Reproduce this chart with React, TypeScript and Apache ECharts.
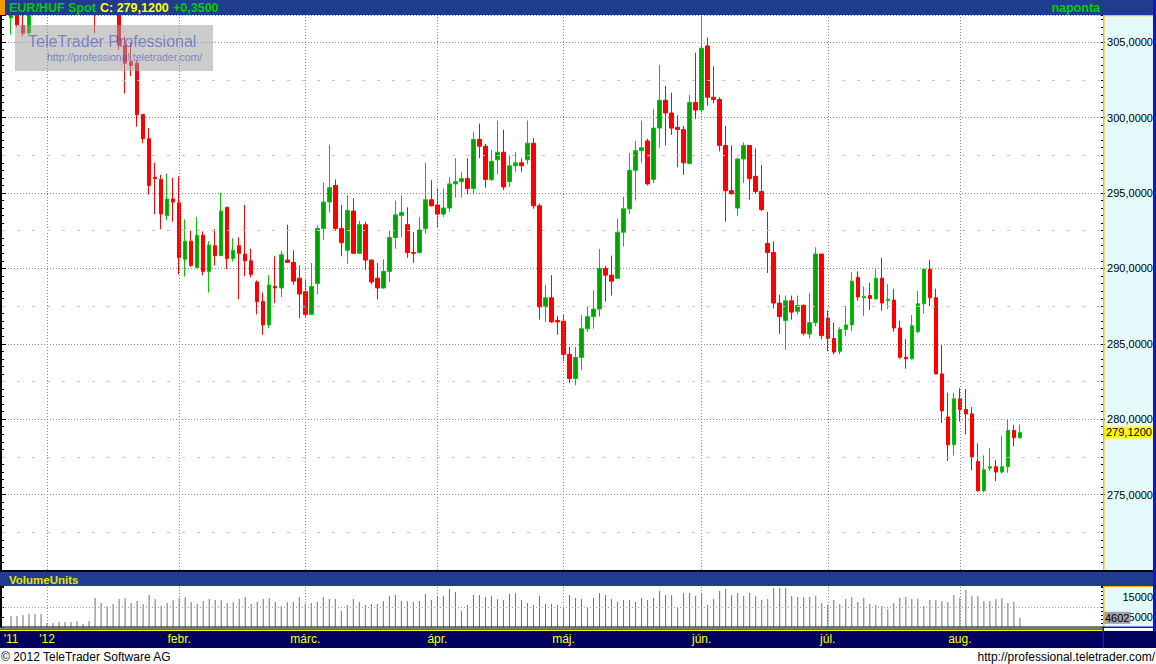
import React, { useEffect, useRef } from "react";
import * as echarts from "echarts";

// ---- data ----
// [open, close, low, high] per trading day, 2011-12-23 .. 2012-08-15
const ohlc: number[][] = [
  [306.6, 307.6, 305.5, 308.2], [307.8, 306.15, 306.0, 308.3], [306.1, 305.6, 305.4, 307.6], [305.6, 309.5, 305.5, 310.2],
  [309.5, 312.8, 308.6, 313.5], [312.8, 314.6, 311.9, 315.4], [314.6, 316.2, 313.8, 317.0], [316.2, 315.3, 314.2, 317.5],
  [315.3, 319.4, 314.8, 320.3], [319.4, 321.8, 318.5, 324.2], [321.8, 320.6, 319.0, 323.0], [320.6, 317.2, 316.5, 321.5],
  [317.2, 313.9, 313.2, 318.0], [313.9, 311.4, 310.5, 314.6], [311.4, 309.8, 305.6, 312.2], [309.8, 312.5, 309.2, 313.6],
  [312.5, 310.6, 309.4, 313.2], [310.6, 308.2, 307.4, 311.5], [308.2, 304.8, 304.5, 308.9], [304.8, 303.6, 301.6, 305.35],
  [303.7, 303.45, 302.75, 305.0], [303.6, 300.2, 299.4, 303.8], [300.2, 298.6, 298.3, 300.2], [298.6, 295.5, 294.9, 299.3],
  [296.05, 295.95, 293.6, 297.0], [295.9, 293.6, 292.6, 296.2], [293.5, 294.6, 293.2, 296.3], [294.6, 294.4, 293.1, 296.0],
  [294.35, 290.7, 289.6, 296.1], [290.6, 291.8, 289.45, 293.25], [291.8, 290.2, 290.1, 292.5], [290.05, 292.2, 290.0, 293.4],
  [292.2, 289.8, 289.55, 292.45], [289.8, 291.55, 288.4, 291.8], [291.5, 290.85, 290.2, 292.6], [290.85, 293.8, 290.8, 295.0],
  [294.05, 290.65, 289.95, 294.05], [290.65, 291.2, 290.45, 292.0], [291.5, 291.0, 287.95, 292.05], [290.95, 290.5, 289.5, 294.2],
  [290.5, 289.6, 289.4, 291.3], [289.1, 287.8, 286.95, 289.2], [287.8, 286.25, 285.6, 288.4], [286.25, 288.9, 286.05, 289.55],
  [288.8, 288.7, 287.7, 290.8], [288.7, 290.9, 288.1, 291.15], [290.55, 290.4, 290.35, 292.9], [290.4, 289.15, 288.9, 291.2],
  [289.35, 288.3, 286.7, 290.2], [288.45, 286.95, 286.8, 289.25], [286.95, 288.8, 286.9, 290.35], [289.0, 292.65, 288.3, 292.85],
  [292.65, 294.4, 291.9, 295.7], [294.4, 295.35, 293.7, 298.2], [295.5, 292.65, 292.5, 295.9], [292.65, 291.7, 290.8, 294.2],
  [291.2, 293.85, 290.3, 294.85], [293.8, 291.0, 290.95, 294.65], [291.0, 292.9, 290.95, 293.15], [292.9, 290.55, 289.9, 293.1],
  [290.55, 289.1, 288.95, 290.6], [289.35, 288.7, 287.95, 290.35], [288.7, 289.8, 288.65, 290.6], [289.8, 292.05, 289.1, 292.5],
  [292.05, 293.55, 291.3, 294.5], [293.5, 293.7, 292.05, 294.85], [292.9, 291.05, 290.7, 294.05], [291.05, 291.0, 290.35, 292.4],
  [291.05, 292.55, 291.0, 293.4], [292.65, 294.55, 292.3, 297.0], [294.55, 294.15, 294.1, 295.85], [294.2, 293.6, 292.7, 295.35],
  [293.6, 294.0, 293.4, 295.3], [294.0, 295.6, 293.75, 296.05], [295.6, 295.75, 294.7, 297.3], [295.75, 295.95, 294.7, 296.4],
  [295.95, 295.3, 294.9, 297.3], [295.3, 298.55, 294.9, 299.05], [298.55, 298.1, 297.3, 299.6], [298.1, 295.9, 295.35, 298.25],
  [295.9, 297.1, 295.8, 297.85], [297.2, 297.7, 296.25, 299.8], [297.7, 295.4, 295.2, 299.2], [295.75, 296.8, 295.4, 297.5],
  [296.8, 297.0, 296.4, 297.7], [297.0, 296.8, 296.4, 297.3], [297.2, 298.3, 296.9, 299.8], [298.3, 294.15, 293.95, 298.65],
  [294.15, 287.45, 286.6, 294.3], [287.45, 288.05, 286.45, 288.9], [288.05, 286.45, 286.4, 289.55], [286.55, 286.45, 285.6, 286.85],
  [286.5, 284.3, 283.85, 286.9], [284.3, 282.7, 282.4, 284.8], [282.7, 284.1, 282.25, 284.8], [284.1, 286.0, 283.25, 286.9],
  [286.0, 286.8, 285.8, 287.5], [286.8, 287.3, 286.0, 288.55], [287.3, 290.0, 286.8, 291.3], [290.0, 289.55, 287.8, 290.15],
  [289.55, 289.15, 288.2, 290.85], [289.35, 292.4, 289.3, 293.3], [292.4, 293.95, 291.45, 294.75], [293.95, 296.5, 293.6, 297.65],
  [296.5, 297.8, 294.5, 298.45], [297.8, 298.0, 297.0, 299.8], [298.45, 295.6, 295.5, 298.6], [295.9, 299.3, 295.65, 300.55],
  [299.3, 301.15, 298.0, 303.5], [301.15, 300.3, 298.15, 302.1], [300.3, 299.3, 298.85, 301.65], [299.35, 299.2, 296.7, 300.15],
  [299.2, 297.0, 296.2, 299.45], [296.95, 301.0, 296.9, 301.5], [301.0, 300.5, 299.9, 304.3], [300.5, 304.6, 300.35, 307.5],
  [304.75, 301.35, 300.8, 305.3], [301.35, 301.2, 300.95, 303.4], [301.2, 298.15, 297.75, 301.35], [298.15, 295.15, 293.1, 299.45],
  [295.15, 294.95, 294.9, 298.15], [294.0, 297.25, 293.45, 297.35], [297.25, 298.15, 295.65, 298.35], [298.15, 295.95, 294.55, 298.15],
  [296.1, 295.1, 294.95, 297.95], [295.1, 293.9, 293.8, 296.85], [291.65, 291.05, 289.7, 293.75], [291.05, 287.7, 287.35, 291.8],
  [287.7, 286.8, 285.65, 288.25], [286.55, 287.85, 284.6, 288.2], [287.85, 287.1, 286.6, 288.2], [287.15, 287.55, 286.95, 288.2],
  [287.55, 285.7, 285.55, 287.6], [285.65, 286.4, 285.35, 288.35], [286.4, 290.95, 286.15, 291.4], [290.95, 285.55, 285.3, 290.95],
  [286.7, 285.35, 284.5, 287.2], [285.35, 284.45, 284.3, 286.4], [284.5, 285.95, 284.3, 286.1], [285.95, 286.25, 285.5, 287.5],
  [286.25, 289.15, 285.85, 289.75], [289.4, 288.1, 287.85, 289.8], [288.05, 288.15, 286.85, 288.8], [288.2, 288.0, 287.25, 289.05],
  [287.98, 289.35, 287.9, 289.95], [289.35, 287.7, 287.2, 290.7], [287.85, 287.95, 287.3, 288.95], [287.9, 286.05, 285.8, 288.65],
  [286.05, 284.1, 284.0, 286.55], [284.1, 284.0, 283.35, 285.3], [284.0, 286.2, 283.95, 286.9], [285.8, 287.65, 285.7, 288.5],
  [287.65, 289.95, 287.0, 289.95], [289.95, 288.05, 287.5, 290.55], [288.05, 283.0, 283.0, 288.65], [283.0, 280.55, 279.75, 284.9],
  [280.15, 278.3, 277.25, 281.75], [278.3, 281.35, 277.6, 281.75], [281.35, 280.65, 279.85, 282.05], [280.65, 280.35, 279.0, 282.0],
  [280.35, 277.5, 276.6, 280.8], [277.2, 275.25, 275.2, 278.4], [275.25, 276.65, 275.15, 277.6], [276.75, 276.85, 276.55, 278.1],
  [276.85, 276.5, 275.9, 277.3], [276.5, 276.85, 276.4, 278.9], [276.85, 279.25, 276.45, 279.95], [279.25, 278.77, 278.2, 279.6],
  [278.77, 279.12, 278.7, 279.65],
];

const volumes: number[] = [
  5500, 5500, 6000, 6500, 6500, 6500, 2000, 2000, 2500, 2500, 2500, 3000, 1500, 3000,
  14500, 12000, 10500, 11500, 14000, 14500, 12000, 13000, 11500, 16000, 14000, 10500, 12000, 13500,
  14500, 15000, 12500, 11500, 13000, 14000, 13500, 13500, 12000, 12500, 14000, 15000, 11500, 12500,
  14000, 14500, 12500, 10500, 12500, 12500, 15000, 11500, 12000, 12500, 15000, 14000, 14000, 8000,
  11000, 14000, 12500, 11000, 11500, 11500, 13000, 15500, 16000, 13000, 13000, 12500, 13000, 16500,
  13500, 15000, 15500, 19000, 17500, 8000, 11000, 16000, 16000, 15000, 15500, 14000, 13500, 16500,
  17000, 13500, 12000, 11000, 15500, 11500, 11500, 11000, 10000, 16000, 14500, 14000, 9500, 14500,
  17000, 16000, 14000, 12500, 13500, 13500, 12500, 14500, 13500, 14500, 18000, 16000, 16000, 9500,
  17000, 17000, 15500, 17000, 11000, 14000, 18000, 19000, 16000, 17000, 15500, 17000, 15500, 13500,
  14000, 19500, 19500, 19500, 15500, 15000, 15000, 15000, 15500, 12000, 11000, 13500, 11500, 14000,
  15000, 12500, 14500, 11500, 11000, 10500, 9000, 12000, 14500, 15000, 14000, 14000, 10500, 13500,
  13500, 13000, 12500, 16000, 14500, 18500, 15500, 15500, 13000, 13000, 14000, 14500, 12000, 12500, 4602,
];

// first day of the axis (one empty slot before the data) and number of axis slots
const axisStart = "2011-12-22";
const axisSlots = 183;

const monthLabels: [string, string][] = [
  ["2011-12-23", "'11"],
  ["2012-01-02", "'12"],
  ["2012-02-01", "febr."],
  ["2012-03-01", "márc."],
  ["2012-04-02", "ápr."],
  ["2012-05-01", "máj."],
  ["2012-06-01", "jún."],
  ["2012-07-02", "júl."],
  ["2012-08-01", "aug."],
];

const priceMin = 270;
const priceMax = 306.8;
const midLevels = [272.5, 277.5, 282.5, 287.5, 292.5, 297.5, 302.5];
const volMax = 20500;
const volGridLevel = 10000;
const lastClose = 279.12;
const lastChange = 0.35;
const lastVolume = 4602;
const title = "EUR/HUF Spot";
const period = "naponta";

function weekdays(start: string, count: number): string[] {
  const out: string[] = [];
  const d = new Date(start + "T00:00:00Z");
  while (out.length < count) {
    const wd = d.getUTCDay();
    if (wd !== 0 && wd !== 6) out.push(d.toISOString().slice(0, 10));
    d.setUTCDate(d.getUTCDate() + 1);
  }
  return out;
}

const fmt = (v: number, d: number) => v.toFixed(d).replace(".", ",");
const FONT = "'Liberation Sans', Arial, sans-serif";

export default function App() {
  const ref = useRef<HTMLDivElement>(null);

  useEffect(() => {
    if (!ref.current) return;
    const chart = echarts.init(ref.current, undefined, { renderer: "svg" });

    const dates = weekdays(axisStart, axisSlots);
    const labelMap = new Map(monthLabels);
    const gridMonths = monthLabels.slice(1).map(([d]) => dates.indexOf(d));
    const candleData: any[] = [["-", "-", "-", "-"], ...ohlc];
    const volData: any[] = ["-", ...volumes];

    const vLine = (idx: number) => ({
      xAxis: idx,
      lineStyle: { color: "#8a8a8a", type: [1, 2], width: 1 },
    });

    const text = (x: number, y: number, t: string, fill: string, font: string, align = "left", z = 50) => ({
      type: "text",
      x,
      y,
      z,
      silent: true,
      style: { text: t, fill, font, textAlign: align, textVerticalAlign: "middle" },
    });
    const rect = (x: number, y: number, w: number, h: number, fill: string, z = -10) => ({
      type: "rect",
      z,
      silent: true,
      shape: { x, y, width: w, height: h },
      style: { fill },
    });

    const option: any = {
      animation: false,
      backgroundColor: "#ffffff",
      textStyle: { fontFamily: FONT },
      grid: [
        { left: 2, right: 55, top: 15, height: 555 },
        { left: 2, right: 55, top: 586, height: 41 },
      ],
      xAxis: [
        {
          type: "category",
          gridIndex: 0,
          data: dates,
          boundaryGap: true,
          axisLine: { show: false },
          axisTick: { show: false },
          axisLabel: { show: false },
          splitLine: { show: false },
        },
        {
          type: "category",
          gridIndex: 1,
          data: dates,
          boundaryGap: true,
          axisLine: { show: false },
          axisTick: { show: false },
          splitLine: { show: false },
          axisLabel: {
            show: true,
            interval: (_i: number, v: string) => labelMap.has(v),
            formatter: (v: string) => labelMap.get(v) ?? "",
            color: "#ffff00",
            fontSize: 12,
            fontFamily: FONT,
            margin: 6,
          },
        },
      ],
      yAxis: [
        {
          type: "value",
          gridIndex: 0,
          position: "right",
          min: priceMin,
          max: priceMax,
          interval: 5,
          axisLine: { show: false },
          axisTick: { show: true, length: 4, lineStyle: { color: "#000" } },
          minorTick: { show: true, splitNumber: 10, length: 3, lineStyle: { color: "#000" } },
          axisLabel: {
            formatter: (v: number) => (Math.abs(v % 5) < 1e-9 && v >= 275 ? fmt(v, 4) : ""),
            align: "right",
            margin: 52,
            color: "#000",
            fontSize: 11,
            fontFamily: FONT,
          },
          splitLine: { show: true, lineStyle: { color: "#8a8a8a", type: [1, 2], width: 1 } },
        },
        {
          type: "value",
          gridIndex: 0,
          position: "left",
          offset: 1,
          min: priceMin,
          max: priceMax,
          interval: 5,
          axisLine: { show: true, lineStyle: { color: "#000", width: 2 } },
          axisTick: { show: true, inside: true, length: 5, lineStyle: { color: "#000" } },
          minorTick: { show: true, splitNumber: 10, length: 3, lineStyle: { color: "#000" } },
          axisLabel: { show: false },
          splitLine: { show: false },
        },
        {
          type: "value",
          gridIndex: 1,
          position: "right",
          min: 0,
          max: volMax,
          interval: 5000,
          axisLine: { show: false },
          axisTick: { show: false },
          axisLabel: {
            formatter: (v: number) => (v === 5000 || v === 15000 ? String(v) : ""),
            align: "right",
            margin: 52,
            color: "#000",
            fontSize: 11,
            fontFamily: FONT,
          },
          splitLine: { show: false },
        },
        {
          type: "value",
          gridIndex: 1,
          position: "right",
          min: 0,
          max: volMax,
          interval: 2000,
          axisLine: { show: false },
          axisTick: { show: true, length: 3, lineStyle: { color: "#000" } },
          axisLabel: { show: false },
          splitLine: { show: false },
        },
        {
          type: "value",
          gridIndex: 1,
          position: "left",
          offset: 1,
          min: 0,
          max: volMax,
          interval: 5000,
          axisLine: { show: true, lineStyle: { color: "#000", width: 2 } },
          axisTick: { show: true, inside: true, length: 3, lineStyle: { color: "#000" } },
          axisLabel: { show: false },
          splitLine: { show: false },
        },
      ],
      series: [
        {
          type: "candlestick",
          xAxisIndex: 0,
          yAxisIndex: 0,
          data: candleData,
          barWidth: 4,
          clip: true,
          itemStyle: {
            color: "#00a400",
            color0: "#ff0000",
            borderColor: "#00c800",
            borderColor0: "#ff0000",
            borderWidth: 1,
          },
          markLine: {
            silent: true,
            symbol: ["none", "none"],
            animation: false,
            label: { show: false },
            data: [
              ...gridMonths.map(vLine),
              ...midLevels.map((v) => ({
                yAxis: v,
                lineStyle: { color: "#c6c6c6", type: [3, 12], width: 1 },
              })),
              {
                yAxis: lastClose,
                lineStyle: { color: "rgba(0,0,0,0)", width: 1 },
                label: {
                  show: true,
                  position: "end",
                  distance: 3,
                  formatter: fmt(lastClose, 4),
                  backgroundColor: "#ffff00",
                  color: "#000",
                  fontSize: 11,
                  fontFamily: FONT,
                  padding: [1, 2, 0, 2],
                },
              },
            ],
          },
        },
        {
          type: "bar",
          xAxisIndex: 1,
          yAxisIndex: 2,
          data: volData,
          barWidth: 1,
          itemStyle: { color: "#707070" },
          markLine: {
            silent: true,
            symbol: ["none", "none"],
            animation: false,
            label: { show: false },
            data: [
              ...gridMonths.map(vLine),
              { yAxis: volGridLevel, lineStyle: { color: "#9a9a9a", type: [1, 2], width: 1 } },
              {
                yAxis: lastVolume,
                lineStyle: { color: "rgba(0,0,0,0)", width: 1 },
                label: {
                  show: true,
                  position: "end",
                  distance: 3,
                  formatter: String(lastVolume),
                  backgroundColor: "#a0a0a0",
                  color: "#000",
                  fontSize: 11,
                  fontFamily: FONT,
                  padding: [1, 1, 0, 1],
                },
              },
            ],
          },
        },
      ],
      graphic: [
        // header (drawn over the plot so candles above the top are hidden)
        rect(0, 0, 1156, 15, "#1f3d8f", 40),
        rect(0, 0, 5, 15, "#ff9900", 41),
        text(9, 8, title, "#00cc00", `bold 12.5px ${FONT}`),
        text(100, 8, "C: " + fmt(lastClose, 4), "#ffff00", `bold 12.5px ${FONT}`),
        text(173, 8, "+" + fmt(lastChange, 4), "#00cc00", `bold 12.5px ${FONT}`),
        text(1100, 8, period, "#00cc00", `bold 12.5px ${FONT}`, "right"),
        // price axis box
        rect(1104, 15, 49, 555, "#e4fafa"),
        rect(1103, 15, 1.5, 555, "#f0c000", 40),
        rect(1103, 15, 50, 1.2, "#f0c000", 40),
        // separator + volume header
        rect(0, 570, 1156, 2, "#000000", 40),
        rect(0, 572, 1156, 14, "#1f3d8f", 40),
        text(9, 579.5, "VolumeUnits", "#e6e600", `bold 11.5px ${FONT}`),
        // volume axis box
        rect(1104, 586, 49, 41, "#e4fafa"),
        rect(1103, 586, 1.5, 41, "#f0c000", 40),
        rect(1103, 586, 50, 1, "#f0c000", 40),
        // date band
        rect(0, 626.5, 1103, 1.2, "#000000", 40),
        rect(0, 627.7, 1103, 0.8, "#ffffff", 40),
        rect(0, 628.5, 1103, 1.2, "#000000", 40),
        rect(0, 629.7, 1103, 1.3, "#ffff00", 40),
        rect(1103, 626.5, 50, 1.5, "#1414c8", 40),
        rect(0, 631, 1156, 17, "#00005e"),
        rect(1102.5, 628, 1.5, 20, "#1414c8", 40),
        // right border
        rect(1153, 0, 3, 631, "#1414c8", 42),
        // footer
        text(1, 656.5, "© 2012 TeleTrader Software AG", "#000000", `12px ${FONT}`),
        text(1155, 656.5, "http://professional.teletrader.com/", "#000000", `12px ${FONT}`, "right"),
        // watermark
        rect(15, 25, 198, 46, "rgba(159,159,159,0.53)", 60),
        text(28, 41, "TeleTrader Professional", "rgba(60,80,190,0.6)", `16px ${FONT}`, "left", 61),
        text(47, 57, "http://professional.teletrader.com/", "rgba(60,80,190,0.6)", `10.5px ${FONT}`, "left", 61),
      ],
    };

    chart.setOption(option);
    return () => chart.dispose();
  }, []);

  return (
    <div
      ref={ref}
      style={{ position: "fixed", left: 0, top: 0, width: 1156, height: 664, background: "#fff" }}
    />
  );
}
